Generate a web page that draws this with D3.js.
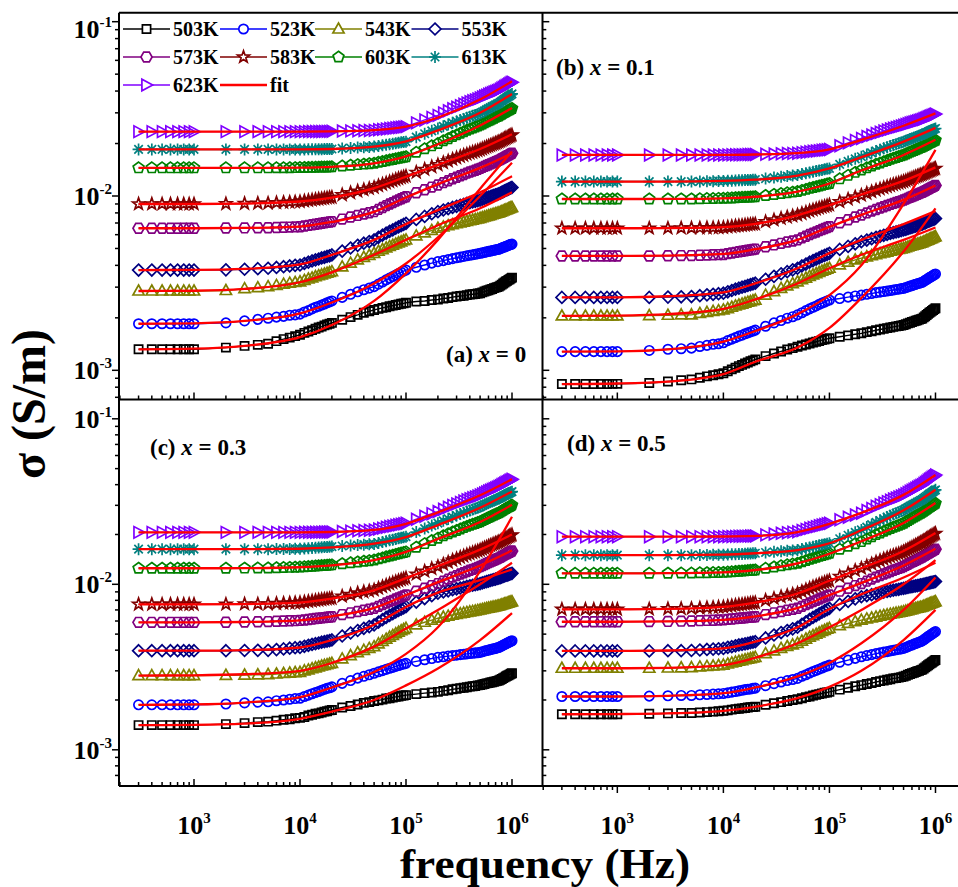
<!DOCTYPE html>
<html>
<head>
<meta charset="utf-8">
<script src="https://cdn.jsdelivr.net/npm/d3@7/dist/d3.min.js"></script>
<style>
  html, body { margin: 0; padding: 0; background: #ffffff; }
  svg { display: block; }
  text { font-family: "Liberation Serif", "Times New Roman", serif; font-weight: bold; fill: #000; }
</style>
</head>
<body>
<svg id="chart" width="958" height="887"></svg>
<script>
// Measurement frequencies (Hz)
const freq = [300,400,500,600,700,800,900,1000,
  2000,3000,4000,5000,6000,7000,8000,9000,10000,
  11000,12000,13000,14000,15000,16000,17000,18000,19000,20000,
  25000,30000,35000,40000,45000,50000,
  55000,60000,65000,70000,75000,80000,85000,90000,95000,100000,
  125000,150000,175000,200000,
  225000,250000,275000,300000,325000,350000,375000,400000,425000,450000,475000,500000,
  525000,550000,575000,600000,625000,650000,675000,700000,725000,750000,
  775000,800000,825000,850000,875000,900000,925000,950000,975000,1000000];

const temps = ["503K","523K","543K","553K","573K","583K","603K","613K","623K"];
const colors = ["#000000","#0000ff","#808000","#000080","#800080","#800000","#008000","#008080","#8000ff"];
const shapes = ["square","circle","triangle","diamond","hexagon","star","pentagon","asterisk","triangleRight"];
const fitColor = "#ff0000";

// Conductivity values in mS/m, one array per temperature and composition
// (a) x = 0
const a503 = [1.32,1.32,1.32,1.32,1.32,1.32,1.32,1.32, 1.35,1.38,1.40,1.42,1.47,1.51,1.54,1.57,1.60, 1.64,1.67,1.70,1.73,1.76,1.78,1.81,1.83,1.85,1.87, 1.95,2.02,2.08,2.14,2.18,2.22, 2.25,2.28,2.30,2.33,2.35,2.37,2.39,2.41,2.42,2.44, 2.48,2.50,2.53,2.55, 2.58,2.60,2.63,2.65,2.67,2.68,2.70,2.72,2.73,2.74,2.76,2.77, 2.80,2.83,2.86,2.88,2.91,2.93,2.96,2.98,3.00,3.02, 3.06,3.10,3.15,3.19,3.23,3.26,3.30,3.33,3.37,3.40];
const a523 = [1.85,1.85,1.85,1.85,1.85,1.85,1.85,1.85, 1.87,1.92,1.96,1.99,2.02,2.04,2.07,2.08,2.10, 2.16,2.20,2.25,2.30,2.33,2.37,2.40,2.44,2.47,2.50, 2.62,2.73,2.82,2.90,2.96,3.02, 3.12,3.21,3.30,3.38,3.45,3.52,3.59,3.65,3.71,3.76, 3.90,4.02,4.12,4.20, 4.26,4.32,4.37,4.42,4.46,4.50,4.54,4.57,4.60,4.63,4.66,4.69, 4.72,4.75,4.78,4.81,4.83,4.86,4.88,4.91,4.93,4.95, 4.99,5.03,5.07,5.10,5.14,5.17,5.21,5.24,5.27,5.30];
const a543 = [2.85,2.85,2.85,2.85,2.85,2.85,2.85,2.85, 2.87,2.94,2.98,3.02,3.07,3.12,3.16,3.19,3.22, 3.28,3.34,3.39,3.45,3.49,3.53,3.57,3.61,3.64,3.68, 3.92,4.12,4.30,4.45,4.57,4.69, 4.82,4.93,5.04,5.14,5.22,5.31,5.39,5.46,5.54,5.60, 5.90,6.14,6.35,6.53, 6.65,6.75,6.85,6.93,7.02,7.09,7.16,7.23,7.28,7.34,7.39,7.45, 7.52,7.58,7.64,7.70,7.75,7.81,7.86,7.91,7.96,8.00, 8.07,8.13,8.20,8.26,8.32,8.38,8.44,8.49,8.55,8.60];
const a553 = [3.76,3.76,3.76,3.76,3.76,3.76,3.76,3.76, 3.77,3.80,3.83,3.85,3.89,3.93,3.97,4.00,4.02, 4.10,4.17,4.24,4.30,4.35,4.41,4.45,4.50,4.54,4.59, 4.83,5.03,5.21,5.36,5.48,5.60, 5.79,5.96,6.12,6.27,6.39,6.53,6.65,6.76,6.87,6.97, 7.34,7.64,7.91,8.13, 8.31,8.45,8.60,8.72,8.85,8.95,9.06,9.16,9.24,9.32,9.40,9.48, 9.58,9.68,9.77,9.85,9.93,10.01,10.09,10.16,10.23,10.30, 10.40,10.50,10.60,10.70,10.79,10.87,10.96,11.04,11.12,11.20];
const a573 = [6.53,6.53,6.53,6.53,6.53,6.53,6.53,6.53, 6.55,6.56,6.57,6.58,6.60,6.62,6.63,6.65,6.66, 6.73,6.78,6.84,6.89,6.93,6.98,7.02,7.06,7.09,7.13, 7.37,7.57,7.74,7.89,8.01,8.13, 8.38,8.59,8.81,9.00,9.16,9.34,9.50,9.64,9.79,9.91, 10.44,10.87,11.25,11.56, 11.93,12.24,12.55,12.81,13.07,13.29,13.52,13.72,13.89,14.06,14.23,14.40, 14.59,14.78,14.96,15.12,15.28,15.44,15.58,15.73,15.87,16.00, 16.18,16.35,16.53,16.70,16.86,17.01,17.17,17.31,17.46,17.60];
const a583 = [9.00,9.00,9.00,9.00,9.00,9.00,9.00,9.00, 9.02,9.05,9.08,9.10,9.15,9.19,9.22,9.25,9.28, 9.36,9.42,9.49,9.55,9.60,9.65,9.70,9.75,9.79,9.83, 10.16,10.43,10.67,10.87,11.04,11.20, 11.45,11.67,11.88,12.08,12.24,12.42,12.59,12.73,12.87,13.00, 13.67,14.22,14.70,15.10, 15.53,15.89,16.26,16.55,16.85,17.11,17.38,17.61,17.81,18.00,18.20,18.40, 18.64,18.88,19.10,19.30,19.50,19.70,19.88,20.06,20.24,20.40, 20.62,20.84,21.06,21.28,21.48,21.66,21.86,22.04,22.22,22.40];
const a603 = [14.5,14.5,14.5,14.5,14.5,14.5,14.5,14.5, 14.50,14.50,14.50,14.50,14.51,14.52,14.53,14.54,14.55, 14.57,14.59,14.61,14.62,14.64,14.65,14.66,14.68,14.69,14.70, 14.87,15.01,15.13,15.23,15.32,15.40, 15.60,15.76,15.93,16.09,16.21,16.35,16.48,16.59,16.70,16.80, 17.82,18.66,19.39,20.00, 20.72,21.32,21.93,22.42,22.92,23.36,23.80,24.18,24.51,24.84,25.17,25.50, 25.90,26.29,26.66,26.99,27.32,27.65,27.94,28.24,28.54,28.80, 29.13,29.46,29.79,30.12,30.42,30.69,30.99,31.26,31.53,31.80];
const a613 = [18.5,18.5,18.5,18.5,18.5,18.5,18.5,18.5, 18.5,18.5,18.5,18.5,18.5,18.5,18.5,18.5,18.5, 18.51,18.53,18.54,18.55,18.56,18.57,18.58,18.59,18.59,18.60, 18.74,18.86,18.97,19.06,19.13,19.20, 19.38,19.54,19.69,19.84,19.95,20.08,20.20,20.31,20.41,20.50, 21.75,22.76,23.66,24.40, 25.10,25.70,26.29,26.78,27.26,27.69,28.13,28.50,28.83,29.15,29.48,29.80, 30.30,30.81,31.27,31.69,32.11,32.53,32.91,33.29,33.66,34.00, 34.50,34.99,35.49,35.98,36.43,36.84,37.29,37.69,38.10,38.50];
const a623 = [23.4,23.4,23.4,23.4,23.4,23.4,23.4,23.4, 23.4,23.4,23.4,23.4,23.4,23.4,23.4,23.4,23.4, 23.41,23.43,23.44,23.45,23.46,23.47,23.48,23.49,23.49,23.50, 23.57,23.63,23.68,23.73,23.76,23.80, 23.97,24.11,24.26,24.39,24.50,24.62,24.72,24.82,24.92,25.00, 26.28,27.32,28.24,29.00, 29.98,30.80,31.63,32.30,32.98,33.58,34.18,34.70,35.15,35.60,36.05,36.50, 36.98,37.46,37.90,38.30,38.70,39.10,39.46,39.82,40.18,40.50, 41.00,41.49,41.99,42.48,42.93,43.34,43.79,44.19,44.60,45.00];

// (b) x = 0.1
const b503 = [0.834,0.834,0.834,0.835,0.835,0.835,0.836,0.836, 0.845,0.863,0.877,0.887,0.906,0.923,0.937,0.950,0.961, 0.988,1.012,1.035,1.057,1.074,1.094,1.109,1.127,1.140,1.156, 1.206,1.248,1.283,1.315,1.340,1.365, 1.388,1.407,1.426,1.444,1.458,1.474,1.489,1.502,1.515,1.526, 1.559,1.586,1.610,1.630, 1.655,1.676,1.697,1.714,1.731,1.746,1.761,1.774,1.786,1.797,1.809,1.820, 1.839,1.858,1.876,1.892,1.908,1.924,1.938,1.953,1.967,1.980, 2.012,2.044,2.076,2.108,2.137,2.163,2.192,2.218,2.244,2.270];
const b523 = [1.28,1.28,1.28,1.28,1.28,1.28,1.28,1.28, 1.30,1.32,1.33,1.34,1.37,1.39,1.41,1.42,1.44, 1.48,1.51,1.54,1.57,1.59,1.62,1.64,1.66,1.68,1.70, 1.79,1.87,1.93,1.99,2.03,2.08, 2.14,2.20,2.25,2.30,2.34,2.39,2.43,2.46,2.50,2.53, 2.58,2.63,2.67,2.70, 2.73,2.76,2.79,2.81,2.83,2.85,2.87,2.89,2.91,2.92,2.94,2.95, 2.98,3.01,3.04,3.06,3.09,3.11,3.14,3.16,3.18,3.20, 3.24,3.28,3.32,3.36,3.40,3.43,3.47,3.50,3.54,3.57];
const b543 = [2.05,2.05,2.05,2.05,2.05,2.05,2.05,2.05, 2.06,2.07,2.08,2.08,2.12,2.15,2.18,2.20,2.22, 2.26,2.30,2.34,2.37,2.40,2.43,2.46,2.48,2.51,2.53, 2.70,2.83,2.95,3.05,3.14,3.22, 3.31,3.38,3.46,3.53,3.59,3.65,3.71,3.76,3.81,3.85, 4.03,4.17,4.30,4.40, 4.48,4.55,4.61,4.67,4.72,4.77,4.82,4.86,4.90,4.94,4.97,5.01, 5.06,5.10,5.15,5.19,5.22,5.26,5.30,5.33,5.37,5.40, 5.45,5.50,5.55,5.59,5.64,5.68,5.72,5.76,5.80,5.84];
const b553 = [2.62,2.62,2.62,2.62,2.62,2.62,2.62,2.62, 2.62,2.63,2.64,2.65,2.68,2.71,2.73,2.75,2.77, 2.82,2.87,2.92,2.96,3.00,3.03,3.07,3.10,3.13,3.16, 3.33,3.46,3.58,3.68,3.77,3.85, 3.97,4.07,4.17,4.26,4.34,4.42,4.50,4.56,4.63,4.69, 4.94,5.14,5.32,5.47, 5.59,5.69,5.79,5.87,5.95,6.02,6.10,6.16,6.22,6.27,6.33,6.38, 6.44,6.50,6.56,6.61,6.67,6.72,6.76,6.81,6.86,6.90, 6.96,7.02,7.08,7.14,7.19,7.24,7.29,7.34,7.39,7.44];
const b573 = [4.53,4.53,4.53,4.53,4.53,4.53,4.53,4.53, 4.53,4.54,4.55,4.55,4.57,4.58,4.60,4.61,4.62, 4.67,4.71,4.75,4.79,4.82,4.85,4.88,4.91,4.93,4.96, 5.11,5.24,5.35,5.45,5.52,5.60, 5.75,5.88,6.01,6.12,6.22,6.33,6.42,6.51,6.60,6.67, 7.02,7.31,7.57,7.78, 8.00,8.19,8.37,8.53,8.68,8.82,8.95,9.07,9.17,9.28,9.38,9.48, 9.60,9.72,9.84,9.94,10.04,10.14,10.23,10.33,10.42,10.50, 10.61,10.72,10.83,10.94,11.04,11.13,11.23,11.32,11.41,11.50];
const b583 = [6.53,6.53,6.53,6.53,6.53,6.53,6.53,6.53, 6.53,6.54,6.55,6.55,6.56,6.57,6.58,6.59,6.60, 6.64,6.68,6.72,6.75,6.78,6.81,6.84,6.86,6.89,6.91, 7.12,7.29,7.44,7.57,7.68,7.78, 7.93,8.07,8.20,8.32,8.42,8.53,8.63,8.71,8.80,8.88, 9.27,9.59,9.87,10.10, 10.36,10.58,10.80,10.98,11.16,11.32,11.48,11.62,11.74,11.86,11.98,12.10, 12.24,12.39,12.52,12.64,12.76,12.88,12.99,13.10,13.20,13.30, 13.42,13.54,13.66,13.78,13.89,13.99,14.10,14.20,14.30,14.40];
const b603 = [9.61,9.61,9.61,9.61,9.61,9.61,9.61,9.61, 9.61,9.61,9.62,9.62,9.64,9.66,9.67,9.69,9.70, 9.73,9.75,9.78,9.80,9.82,9.84,9.85,9.87,9.88,9.90, 10.07,10.21,10.33,10.43,10.52,10.60, 10.77,10.91,11.06,11.19,11.30,11.42,11.52,11.62,11.72,11.80, 12.54,13.13,13.66,14.10, 14.50,14.84,15.19,15.46,15.74,15.99,16.24,16.46,16.64,16.83,17.01,17.20, 17.43,17.66,17.87,18.06,18.25,18.44,18.61,18.78,18.95,19.10, 19.30,19.50,19.69,19.89,20.07,20.23,20.41,20.58,20.74,20.90];
const b613 = [12.1,12.1,12.1,12.1,12.1,12.1,12.1,12.1, 12.1,12.1,12.1,12.1,12.13,12.15,12.17,12.19,12.20, 12.23,12.25,12.28,12.30,12.32,12.34,12.35,12.37,12.38,12.40, 12.59,12.75,12.89,13.01,13.10,13.20, 13.37,13.51,13.66,13.79,13.90,14.02,14.12,14.22,14.32,14.40, 15.17,15.79,16.34,16.80, 17.28,17.69,18.10,18.43,18.76,19.06,19.35,19.61,19.83,20.06,20.28,20.50, 20.74,20.98,21.20,21.40,21.60,21.80,21.98,22.16,22.34,22.50, 22.71,22.92,23.13,23.34,23.53,23.70,23.89,24.06,24.23,24.40];
const b623 = [17.2,17.2,17.2,17.2,17.2,17.2,17.2,17.2, 17.2,17.2,17.2,17.2,17.2,17.2,17.2,17.2,17.2, 17.21,17.23,17.24,17.25,17.26,17.27,17.28,17.29,17.29,17.30, 17.37,17.43,17.48,17.53,17.56,17.60, 17.73,17.83,17.94,18.04,18.12,18.21,18.29,18.37,18.44,18.50, 19.43,20.18,20.85,21.40, 21.93,22.38,22.84,23.20,23.57,23.90,24.23,24.52,24.76,25.01,25.25,25.50, 25.74,25.98,26.20,26.40,26.60,26.80,26.98,27.16,27.34,27.50, 27.72,27.94,28.16,28.38,28.58,28.76,28.96,29.14,29.32,29.50];

// (c) x = 0.3
const c503 = [1.41,1.41,1.41,1.41,1.41,1.41,1.41,1.41, 1.43,1.45,1.47,1.48,1.50,1.52,1.53,1.55,1.56, 1.58,1.61,1.63,1.65,1.66,1.68,1.70,1.71,1.73,1.74, 1.80,1.84,1.88,1.92,1.94,1.97, 1.99,2.01,2.04,2.05,2.07,2.09,2.10,2.12,2.13,2.14, 2.17,2.20,2.22,2.24, 2.27,2.29,2.32,2.34,2.36,2.37,2.39,2.41,2.42,2.43,2.45,2.46, 2.48,2.50,2.52,2.53,2.55,2.56,2.58,2.59,2.61,2.62, 2.65,2.68,2.71,2.74,2.77,2.80,2.82,2.85,2.88,2.90];
const c523 = [1.87,1.87,1.87,1.87,1.87,1.87,1.87,1.87, 1.89,1.92,1.94,1.95,1.98,2.00,2.02,2.04,2.05, 2.10,2.14,2.18,2.22,2.25,2.29,2.32,2.35,2.37,2.40, 2.52,2.62,2.71,2.78,2.84,2.90, 2.96,3.01,3.06,3.11,3.15,3.19,3.23,3.27,3.30,3.33, 3.42,3.50,3.56,3.62, 3.65,3.68,3.71,3.73,3.76,3.78,3.80,3.82,3.83,3.85,3.86,3.88, 3.91,3.95,3.98,4.00,4.03,4.06,4.08,4.10,4.13,4.15, 4.20,4.24,4.29,4.33,4.37,4.41,4.45,4.49,4.52,4.56];
const c543 = [2.81,2.81,2.81,2.81,2.81,2.81,2.81,2.81, 2.82,2.83,2.84,2.85,2.87,2.89,2.91,2.93,2.94, 3.00,3.04,3.09,3.13,3.17,3.21,3.24,3.27,3.30,3.33, 3.54,3.71,3.86,3.99,4.10,4.20, 4.37,4.52,4.66,4.80,4.91,5.03,5.14,5.24,5.33,5.42, 5.68,5.90,6.08,6.24, 6.34,6.42,6.51,6.57,6.64,6.70,6.76,6.82,6.86,6.91,6.95,7.00, 7.05,7.10,7.14,7.18,7.22,7.26,7.30,7.33,7.37,7.40, 7.45,7.50,7.55,7.60,7.64,7.68,7.73,7.77,7.81,7.85];
const c553 = [3.97,3.97,3.97,3.97,3.97,3.97,3.97,3.97, 3.97,3.98,3.99,3.99,4.03,4.07,4.11,4.14,4.16, 4.22,4.28,4.33,4.38,4.42,4.47,4.50,4.54,4.57,4.61, 4.87,5.08,5.26,5.42,5.55,5.68, 5.91,6.11,6.31,6.49,6.64,6.80,6.95,7.08,7.21,7.33, 7.81,8.20,8.54,8.83, 9.00,9.13,9.27,9.39,9.50,9.60,9.71,9.80,9.87,9.95,10.02,10.10, 10.20,10.29,10.38,10.46,10.54,10.62,10.69,10.76,10.84,10.90, 10.98,11.06,11.15,11.23,11.30,11.37,11.45,11.51,11.58,11.65];
const c573 = [5.89,5.89,5.89,5.89,5.89,5.89,5.89,5.89, 5.90,5.92,5.94,5.95,5.98,6.00,6.02,6.03,6.05, 6.09,6.13,6.17,6.21,6.24,6.27,6.29,6.32,6.34,6.37, 6.56,6.72,6.85,6.97,7.07,7.16, 7.36,7.54,7.71,7.87,8.00,8.15,8.28,8.39,8.51,8.61, 9.09,9.47,9.82,10.10, 10.45,10.75,11.05,11.29,11.53,11.75,11.96,12.15,12.31,12.48,12.64,12.80, 12.99,13.18,13.36,13.52,13.68,13.84,13.98,14.13,14.27,14.40, 14.57,14.73,14.90,15.06,15.21,15.35,15.50,15.63,15.77,15.90];
const c583 = [7.57,7.57,7.57,7.57,7.57,7.57,7.57,7.57, 7.58,7.60,7.61,7.62,7.65,7.68,7.71,7.73,7.75, 7.82,7.88,7.93,7.99,8.03,8.08,8.12,8.16,8.19,8.23, 8.47,8.67,8.85,9.00,9.12,9.24, 9.47,9.67,9.87,10.05,10.20,10.37,10.52,10.65,10.78,10.90, 11.51,12.00,12.44,12.80, 13.23,13.59,13.96,14.25,14.55,14.81,15.08,15.31,15.51,15.70,15.90,16.10, 16.33,16.56,16.77,16.96,17.15,17.34,17.51,17.68,17.85,18.00, 18.21,18.42,18.63,18.84,19.03,19.20,19.39,19.56,19.73,19.90];
const c603 = [12.5,12.5,12.5,12.5,12.5,12.5,12.5,12.5, 12.50,12.52,12.54,12.55,12.59,12.62,12.65,12.68,12.70, 12.76,12.80,12.85,12.90,12.93,12.97,13.00,13.04,13.07,13.10, 13.32,13.50,13.65,13.78,13.89,14.00, 14.24,14.44,14.65,14.83,14.99,15.16,15.31,15.45,15.58,15.70, 16.76,17.61,18.37,19.00, 19.64,20.18,20.72,21.16,21.60,21.99,22.38,22.72,23.02,23.31,23.61,23.90, 24.27,24.64,24.99,25.30,25.61,25.92,26.19,26.47,26.75,27.00, 27.34,27.68,28.02,28.36,28.67,28.95,29.26,29.54,29.82,30.10];
const c613 = [16.3,16.3,16.3,16.3,16.3,16.3,16.3,16.3, 16.30,16.30,16.30,16.30,16.33,16.35,16.37,16.39,16.40, 16.47,16.53,16.59,16.65,16.69,16.74,16.78,16.83,16.86,16.90, 17.04,17.16,17.27,17.36,17.43,17.50, 17.77,17.99,18.22,18.43,18.60,18.79,18.96,19.12,19.27,19.40, 20.68,21.72,22.64,23.40, 24.18,24.84,25.50,26.04,26.58,27.06,27.54,27.96,28.32,28.68,29.04,29.40, 29.83,30.26,30.66,31.02,31.38,31.74,32.06,32.39,32.71,33.00, 33.36,33.73,34.09,34.45,34.78,35.08,35.41,35.71,36.00,36.30];
const c623 = [20.6,20.6,20.6,20.6,20.6,20.6,20.6,20.6, 20.6,20.6,20.6,20.6,20.6,20.6,20.6,20.6,20.6, 20.61,20.63,20.64,20.65,20.66,20.67,20.68,20.69,20.69,20.70, 20.84,20.96,21.07,21.16,21.23,21.30, 21.59,21.85,22.10,22.33,22.52,22.73,22.92,23.09,23.25,23.40, 24.71,25.78,26.72,27.50, 28.42,29.20,29.99,30.62,31.26,31.83,32.40,32.90,33.32,33.75,34.17,34.60, 35.13,35.66,36.14,36.58,37.02,37.46,37.86,38.25,38.65,39.00, 39.45,39.90,40.35,40.80,41.21,41.58,41.99,42.36,42.73,43.10];

// (d) x = 0.5
const d503 = [1.64,1.64,1.64,1.64,1.64,1.64,1.64,1.64, 1.65,1.66,1.67,1.67,1.68,1.69,1.70,1.71,1.72, 1.73,1.75,1.76,1.77,1.78,1.79,1.80,1.81,1.81,1.82, 1.87,1.91,1.94,1.97,2.00,2.02, 2.05,2.08,2.10,2.13,2.15,2.17,2.19,2.21,2.22,2.24, 2.31,2.37,2.42,2.46, 2.50,2.53,2.57,2.60,2.62,2.65,2.67,2.70,2.71,2.73,2.75,2.77, 2.80,2.84,2.87,2.90,2.92,2.95,2.98,3.00,3.03,3.05, 3.10,3.15,3.20,3.24,3.29,3.33,3.37,3.41,3.45,3.49];
const d523 = [2.10,2.10,2.10,2.10,2.10,2.10,2.10,2.10, 2.11,2.12,2.13,2.13,2.15,2.16,2.17,2.18,2.19, 2.21,2.23,2.25,2.27,2.29,2.31,2.32,2.33,2.35,2.36, 2.44,2.51,2.57,2.62,2.66,2.70, 2.78,2.84,2.91,2.97,3.02,3.07,3.12,3.17,3.21,3.25, 3.38,3.48,3.57,3.65, 3.71,3.76,3.81,3.85,3.89,3.92,3.96,3.99,4.02,4.05,4.07,4.10, 4.15,4.21,4.26,4.30,4.35,4.39,4.43,4.47,4.51,4.55, 4.62,4.69,4.76,4.83,4.89,4.95,5.01,5.07,5.12,5.18];
const d543 = [3.11,3.11,3.11,3.11,3.11,3.11,3.11,3.11, 3.11,3.12,3.13,3.14,3.17,3.19,3.21,3.23,3.25, 3.30,3.35,3.39,3.43,3.46,3.50,3.53,3.56,3.59,3.62, 3.81,3.96,4.10,4.21,4.31,4.40, 4.54,4.67,4.79,4.90,4.99,5.09,5.19,5.27,5.35,5.42, 5.63,5.80,5.95,6.08, 6.18,6.26,6.34,6.41,6.48,6.54,6.60,6.65,6.70,6.74,6.79,6.83, 6.89,6.94,7.00,7.04,7.09,7.14,7.18,7.22,7.26,7.30, 7.36,7.42,7.48,7.54,7.60,7.65,7.70,7.75,7.80,7.85];
const d553 = [3.96,3.96,3.96,3.96,3.96,3.96,3.96,3.96, 3.96,3.97,3.97,3.98,4.01,4.04,4.06,4.08,4.10, 4.16,4.20,4.25,4.30,4.33,4.37,4.40,4.44,4.47,4.50, 4.74,4.94,5.11,5.26,5.38,5.50, 5.73,5.93,6.13,6.31,6.46,6.63,6.78,6.91,7.04,7.16, 7.56,7.89,8.17,8.41, 8.55,8.66,8.78,8.87,8.97,9.05,9.13,9.21,9.27,9.33,9.40,9.46, 9.52,9.58,9.63,9.68,9.73,9.78,9.82,9.87,9.91,9.95, 10.00,10.05,10.10,10.15,10.19,10.23,10.28,10.32,10.36,10.40];
const d573 = [5.94,5.94,5.94,5.94,5.94,5.94,5.94,5.94, 5.95,5.97,5.99,6.00,6.03,6.05,6.07,6.08,6.10, 6.14,6.17,6.20,6.23,6.26,6.28,6.31,6.33,6.35,6.37, 6.56,6.72,6.85,6.97,7.07,7.16, 7.36,7.54,7.71,7.87,8.00,8.15,8.28,8.39,8.51,8.61, 9.09,9.47,9.82,10.10, 10.45,10.75,11.05,11.29,11.53,11.75,11.96,12.15,12.31,12.48,12.64,12.80, 13.02,13.23,13.43,13.61,13.79,13.97,14.13,14.29,14.46,14.60, 14.79,14.97,15.16,15.35,15.52,15.67,15.84,15.99,16.15,16.30];
const d583 = [7.06,7.06,7.06,7.06,7.06,7.06,7.06,7.06, 7.08,7.11,7.13,7.15,7.19,7.22,7.25,7.28,7.30, 7.36,7.41,7.47,7.52,7.56,7.60,7.63,7.67,7.70,7.74, 8.00,8.22,8.40,8.57,8.70,8.83, 9.06,9.26,9.46,9.65,9.80,9.97,10.12,10.25,10.38,10.50, 11.14,11.66,12.12,12.50, 12.92,13.27,13.62,13.91,14.20,14.45,14.71,14.93,15.12,15.32,15.51,15.70, 15.98,16.25,16.51,16.74,16.97,17.20,17.40,17.61,17.82,18.00, 18.25,18.51,18.76,19.01,19.24,19.45,19.68,19.89,20.09,20.30];
const d603 = [11.65,11.65,11.65,11.65,11.65,11.65,11.65,11.65, 11.65,11.67,11.69,11.70,11.73,11.75,11.77,11.79,11.80, 11.86,11.90,11.95,12.00,12.03,12.07,12.10,12.14,12.17,12.20, 12.49,12.73,12.93,13.11,13.26,13.40, 13.68,13.92,14.16,14.38,14.56,14.76,14.94,15.10,15.26,15.40, 16.26,16.97,17.59,18.10, 18.79,19.37,19.96,20.43,20.91,21.33,21.76,22.13,22.45,22.76,23.08,23.40, 23.86,24.31,24.73,25.11,25.49,25.87,26.21,26.55,26.90,27.20, 27.61,28.01,28.42,28.83,29.20,29.53,29.90,30.23,30.57,30.90];
const d613 = [15.0,15.0,15.0,15.0,15.0,15.0,15.0,15.0, 15.00,15.00,15.00,15.00,15.03,15.05,15.07,15.09,15.10, 15.14,15.18,15.21,15.25,15.27,15.30,15.33,15.36,15.38,15.40, 15.57,15.71,15.83,15.93,16.02,16.10, 16.32,16.52,16.71,16.88,17.03,17.19,17.33,17.46,17.59,17.70, 18.85,19.79,20.62,21.30, 22.18,22.93,23.68,24.29,24.90,25.45,25.99,26.47,26.88,27.28,27.69,28.10, 28.63,29.16,29.64,30.08,30.52,30.96,31.36,31.75,32.15,32.50, 33.02,33.53,34.05,34.57,35.04,35.46,35.93,36.35,36.78,37.20];
const d623 = [19.4,19.4,19.4,19.4,19.4,19.4,19.4,19.4, 19.4,19.4,19.4,19.4,19.4,19.4,19.4,19.4,19.4, 19.43,19.45,19.48,19.50,19.52,19.54,19.55,19.57,19.58,19.60, 19.89,20.13,20.33,20.51,20.66,20.80, 21.16,21.48,21.79,22.07,22.31,22.57,22.80,23.01,23.22,23.40, 24.52,25.43,26.24,26.90, 27.90,28.75,29.60,30.29,30.98,31.60,32.21,32.75,33.21,33.68,34.14,34.60, 35.25,35.90,36.49,37.03,37.57,38.11,38.60,39.08,39.57,40.00, 40.63,41.25,41.88,42.51,43.08,43.59,44.16,44.67,45.19,45.70];

// Fitted curves (mS/m), sampled at these frequencies, in temperature order 503K ... 623K
const fitFreq = [300,1000,3000,10000,20000,50000,100000,200000,500000,1000000];
const fitA = [
  [1.32,1.33,1.38,1.55,1.82,2.5,3.6,5.6,11.0,18.0],
  [1.85,1.86,1.92,2.12,2.45,3.15,4.1,5.8,10.0,15.5],
  [2.85,2.86,2.93,3.2,3.65,4.6,5.6,6.8,8.5,10.5],
  [3.76,3.77,3.82,4.05,4.6,5.6,6.9,8.3,10.5,13.0],
  [6.53,6.53,6.56,6.68,7.1,8.1,9.8,11.7,14.5,17.6],
  [9.0,9.0,9.05,9.3,9.8,11.1,12.9,15.1,18.6,22.6],
  [14.5,14.5,14.5,14.55,14.7,15.4,16.9,19.8,25.4,32.0],
  [18.5,18.5,18.5,18.52,18.6,19.2,20.6,23.8,30.0,38.5],
  [23.4,23.4,23.4,23.42,23.5,23.9,25.0,28.2,35.8,45.5]];
const fitB = [
  [0.834,0.84,0.86,0.95,1.12,1.35,1.75,2.6,4.8,8.5],
  [1.28,1.285,1.32,1.46,1.68,2.1,2.7,4.0,9.0,18.4],
  [2.05,2.06,2.1,2.25,2.55,3.15,3.85,4.6,5.6,6.6],
  [2.62,2.62,2.66,2.8,3.15,3.85,4.7,5.6,6.9,8.2],
  [4.53,4.53,4.55,4.65,4.95,5.6,6.65,7.8,9.5,11.5],
  [6.53,6.53,6.55,6.63,6.92,7.75,8.85,10.2,12.2,14.6],
  [9.61,9.61,9.62,9.7,9.9,10.6,11.8,14.0,17.2,21.0],
  [12.1,12.1,12.1,12.2,12.4,13.1,14.4,16.7,20.5,24.6],
  [17.2,17.2,17.2,17.2,17.3,17.6,18.5,21.0,25.3,29.8]];
const fitC = [
  [1.41,1.415,1.44,1.54,1.7,2.0,2.45,3.1,4.6,6.7],
  [1.87,1.88,1.93,2.08,2.38,2.95,3.8,5.5,12.0,25.6],
  [2.81,2.82,2.86,3.0,3.35,4.2,5.4,7.0,10.0,13.5],
  [3.97,3.97,4.0,4.15,4.6,5.7,7.3,8.9,10.6,12.3],
  [5.89,5.89,5.92,6.05,6.4,7.2,8.6,10.3,13.0,16.0],
  [7.57,7.57,7.6,7.75,8.2,9.2,10.9,12.9,16.2,20.0],
  [12.5,12.5,12.52,12.68,13.0,14.0,15.7,18.8,23.8,30.2],
  [16.3,16.3,16.3,16.4,16.7,17.6,19.3,22.8,29.0,36.4],
  [20.6,20.6,20.6,20.62,20.7,21.3,23.2,27.2,34.5,43.2]];
const fitD = [
  [1.64,1.645,1.66,1.72,1.82,2.05,2.4,3.0,4.6,7.0],
  [2.10,2.10,2.12,2.2,2.38,2.78,3.35,4.4,7.0,11.0],
  [3.11,3.11,3.13,3.25,3.6,4.4,5.5,7.0,10.0,14.0],
  [3.96,3.96,3.98,4.1,4.5,5.5,7.1,8.7,11.0,13.5],
  [5.94,5.94,5.97,6.1,6.4,7.2,8.6,10.2,13.0,16.4],
  [7.06,7.06,7.1,7.3,7.75,8.8,10.5,12.5,15.9,20.4],
  [11.65,11.65,11.67,11.8,12.2,13.4,15.3,18.2,23.5,31.0],
  [15.0,15.0,15.0,15.1,15.4,16.1,17.7,21.2,28.0,37.3],
  [19.4,19.4,19.4,19.45,19.6,20.7,23.2,27.0,34.7,45.8]];

const unit = 1e-3; // mS/m -> S/m

// ---------- layout ----------
const colX = [[119, 542.5], [542.3, 966]];
const rowY = [
  { range: [399.5, 12.7], domain: [Math.pow(10, -3.1675), Math.pow(10, -0.9484)] },
  { range: [786, 399.5], domain: [Math.pow(10, -3.2187), Math.pow(10, -0.8834)] }
];
const xDomain = [Math.pow(10, 2.2925), Math.pow(10, 6.2877)];

const panels = [
  { tag: "(a)", xval: "0",   col: 0, row: 0, data: [a503,a523,a543,a553,a573,a583,a603,a613,a623], fits: fitA, label: [446, 362] },
  { tag: "(b)", xval: "0.1", col: 1, row: 0, data: [b503,b523,b543,b553,b573,b583,b603,b613,b623], fits: fitB, label: [556, 75] },
  { tag: "(c)", xval: "0.3", col: 0, row: 1, data: [c503,c523,c543,c553,c573,c583,c603,c613,c623], fits: fitC, label: [150, 455] },
  { tag: "(d)", xval: "0.5", col: 1, row: 1, data: [d503,d523,d543,d553,d573,d583,d603,d613,d623], fits: fitD, label: [567, 451] }
];

const svg = d3.select("#chart");

// marker outlines, centred on (0,0)
function symbolPath(kind) {
  const p = d3.path();
  const poly = pts => { pts.forEach(([x, y], i) => i ? p.lineTo(x, y) : p.moveTo(x, y)); p.closePath(); };
  switch (kind) {
    case "square": poly([[-4.1,-4.1],[4.1,-4.1],[4.1,4.1],[-4.1,4.1]]); break;
    case "circle": p.moveTo(4.7, 0); p.arc(0, 0, 4.7, 0, 2 * Math.PI); break;
    case "triangle": poly([[0,-6],[5.6,4],[-5.6,4]]); break;
    case "diamond": poly([[0,-5.9],[5.9,0],[0,5.9],[-5.9,0]]); break;
    case "hexagon": poly(d3.range(6).map(k => [5.6 * Math.cos(k * Math.PI / 3), 5.6 * Math.sin(k * Math.PI / 3)])); break;
    case "star": poly(d3.range(10).map(k => { const r = k % 2 ? 2.5 : 6.2, a = -Math.PI / 2 + k * Math.PI / 5; return [r * Math.cos(a), r * Math.sin(a)]; })); break;
    case "pentagon": poly(d3.range(5).map(k => { const a = -Math.PI / 2 + k * 2 * Math.PI / 5; return [5.7 * Math.cos(a), 5.7 * Math.sin(a)]; })); break;
    case "asterisk": for (let k = 0; k < 4; k++) { const a = k * Math.PI / 4; p.moveTo(-6 * Math.cos(a), -6 * Math.sin(a)); p.lineTo(6 * Math.cos(a), 6 * Math.sin(a)); } break;
    case "triangleRight": poly([[6.2,0],[-4.6,-5.8],[-4.6,5.8]]); break;
  }
  return p.toString();
}

panels.forEach((pn, pi) => {
  const xr = colX[pn.col], yr = rowY[pn.row];
  const x = d3.scaleLog().domain(xDomain).range(xr);
  const y = d3.scaleLog().domain(yr.domain).range(yr.range);
  const clipId = "clip" + pi;
  svg.append("clipPath").attr("id", clipId).append("rect")
    .attr("x", xr[0]).attr("y", yr.range[1])
    .attr("width", xr[1] - xr[0]).attr("height", yr.range[0] - yr.range[1]);
  const g = svg.append("g").attr("clip-path", `url(#${clipId})`);

  // measured data: line + hollow markers
  pn.data.forEach((vals, si) => {
    const pts = freq.map((f, i) => [f, vals[i]]).filter(d => d[1] != null);
    const line = d3.line().x(d => x(d[0])).y(d => y(d[1] * unit));
    g.append("path").attr("d", line(pts)).attr("fill", "none")
      .attr("stroke", colors[si]).attr("stroke-width", 1.4);
    const sp = symbolPath(shapes[si]);
    g.append("g").selectAll("path").data(pts).join("path")
      .attr("transform", d => `translate(${x(d[0])},${y(d[1] * unit)})`)
      .attr("d", sp).attr("fill", "none")
      .attr("stroke", colors[si]).attr("stroke-width", 1.7);
  });

  // fitted curves on top
  const fitLine = d3.line().curve(d3.curveMonotoneX).x(d => x(d[0])).y(d => y(d[1] * unit));
  pn.fits.forEach(vals => {
    g.append("path").attr("d", fitLine(fitFreq.map((f, i) => [f, vals[i]])))
      .attr("fill", "none").attr("stroke", fitColor).attr("stroke-width", 2.3);
  });

  // ticks
  const ax = svg.append("g").attr("stroke", "#000").attr("stroke-width", 1.5);
  const yDir = pn.col === 0 ? -1 : 1;
  y.ticks().forEach(v => {
    const major = Math.abs(Math.log10(v) - Math.round(Math.log10(v))) < 1e-9;
    const len = major ? 7 : 4;
    const yy = y(v);
    if (yy < yr.range[1] - 0.5 || yy > yr.range[0] + 0.5) return;
    ax.append("line").attr("x1", xr[0]).attr("x2", xr[0] + yDir * len).attr("y1", yy).attr("y2", yy);
    if (major && pn.col === 0) {
      // keep the topmost label clear of the frame corner
      const ty = Math.max(yy + 9, yr.range[1] + 25);
      const t = svg.append("text").attr("x", 112).attr("y", ty)
        .attr("text-anchor", "end").attr("font-size", 26);
      t.append("tspan").text("10");
      t.append("tspan").attr("font-size", 15).attr("dy", -11).text(String(Math.round(Math.log10(v))));
    }
  });
  const xDir = (pn.row === 1 && pn.col === 1) ? 1 : -1;
  x.ticks().forEach(v => {
    const major = Math.abs(Math.log10(v) - Math.round(Math.log10(v))) < 1e-9;
    const len = major ? 7 : 4;
    const xx = x(v);
    if (xx < xr[0] + 0.5 || xx > xr[1] - 0.5) return;
    ax.append("line").attr("x1", xx).attr("x2", xx).attr("y1", yr.range[0]).attr("y2", yr.range[0] + xDir * len);
    if (major && pn.row === 1) {
      const t = svg.append("text").attr("x", xx).attr("y", 833.5)
        .attr("text-anchor", "middle").attr("font-size", 26);
      t.append("tspan").text("10");
      t.append("tspan").attr("font-size", 15).attr("dy", -11).text(String(Math.round(Math.log10(v))));
    }
  });

  // panel caption
  const cap = svg.append("text").attr("x", pn.label[0]).attr("y", pn.label[1])
    .attr("font-size", 23).style("white-space", "pre");
  cap.append("tspan").text(pn.tag + " ");
  cap.append("tspan").attr("font-style", "italic").text("x");
  cap.append("tspan").text(" = " + pn.xval);
});

// frame and dividers
const frame = svg.append("g").attr("stroke", "#000").attr("stroke-width", 2).attr("fill", "none");
frame.append("line").attr("x1", 119).attr("x2", 966).attr("y1", 12.7).attr("y2", 12.7);
frame.append("line").attr("x1", 119).attr("x2", 966).attr("y1", 399.5).attr("y2", 399.5);
frame.append("line").attr("x1", 119).attr("x2", 966).attr("y1", 786).attr("y2", 786);
frame.append("line").attr("x1", 119).attr("x2", 119).attr("y1", 12.7).attr("y2", 786);
frame.append("line").attr("x1", 542.5).attr("x2", 542.5).attr("y1", 12.7).attr("y2", 786);

// legend inside panel (a)
const legCols = [123, 220, 315, 411.5], legRows = [29, 57, 85];
const legendItems = temps.map((t, i) => ({ t, color: colors[i], shape: shapes[i] }))
  .concat([{ t: "fit", color: fitColor, shape: null }]);
legendItems.forEach((it, i) => {
  const lx = legCols[i % 4], ly = legRows[Math.floor(i / 4)];
  const lg = svg.append("g");
  lg.append("line").attr("x1", lx).attr("x2", lx + 47).attr("y1", ly).attr("y2", ly)
    .attr("stroke", it.color).attr("stroke-width", it.shape ? 1.6 : 2.6);
  if (it.shape) {
    lg.append("path").attr("d", symbolPath(it.shape)).attr("transform", `translate(${lx + 23.5},${ly})`)
      .attr("fill", "#fff").attr("stroke", it.color).attr("stroke-width", 1.7);
  }
  lg.append("text").attr("x", lx + 50).attr("y", ly + 7).attr("font-size", 20).text(it.t);
});

// axis titles
svg.append("text").attr("transform", "translate(45,404) rotate(-90)")
  .attr("text-anchor", "middle").attr("font-size", 48).text("σ (S/m)");
svg.append("text").attr("x", 545).attr("y", 877.5)
  .attr("text-anchor", "middle").attr("font-size", 43)
  .attr("textLength", 290).attr("lengthAdjust", "spacingAndGlyphs")
  .text("frequency (Hz)");
</script>
</body>
</html>
